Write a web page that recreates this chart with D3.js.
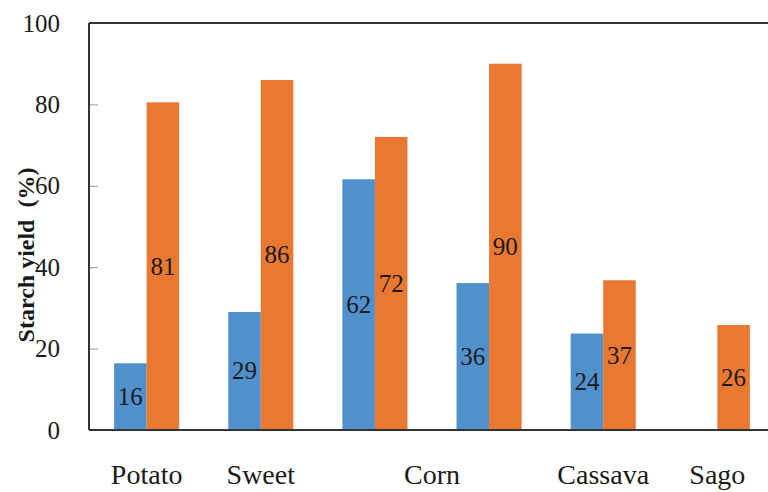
<!DOCTYPE html>
<html>
<head>
<meta charset="utf-8">
<script src="https://cdn.jsdelivr.net/npm/d3@7"></script>
<style>
  body { margin: 0; background: #fff; }
  svg text { font-family: "Liberation Serif", "DejaVu Serif", serif; fill: #1a1a1a; }
</style>
</head>
<body>
<svg id="chart" width="768" height="492"></svg>
<script>
// groups along the x axis (corn has two bar pairs)
var groups = ["potato", "sweet", "corn1", "corn2", "cassava", "sago"];
var blueValues = [16.4, 29, 61.6, 36.1, 23.7, null];
var orangeValues = [80.5, 86, 72, 90, 36.8, 25.8];
var xLabels = ["Potato", "Sweet", "Corn", "Cassava", "Sago"];
var xLabelGroups = [["potato"], ["sweet"], ["corn1", "corn2"], ["cassava"], ["sago"]];
var yTicks = [0, 20, 40, 60, 80, 100];
var yTitle = "Starch yield  (%)";

var svg = d3.select("#chart"),
    margin = {top: 23, right: -7, bottom: 62, left: 89},
    width = +svg.attr("width") - margin.left - margin.right,
    height = +svg.attr("height") - margin.top - margin.bottom;

var serif = "'Liberation Serif', 'DejaVu Serif', serif";
var blue = "#5090cc", orange = "#e97932";

var x0 = d3.scaleBand()
  .domain(groups)
  .range([margin.left, margin.left + width])
  .paddingInner(0.43)
  .paddingOuter(0.22);

var x1 = d3.scaleBand()
  .domain(["blue", "orange"])
  .range([0, x0.bandwidth()]);

var y = d3.scaleLinear()
  .domain([0, 100])
  .range([margin.top + height, margin.top]);

var rows = groups.map(function (g, i) {
  return {group: g, bars: [
    {key: "blue", value: blueValues[i]},
    {key: "orange", value: orangeValues[i]}
  ].filter(function (b) { return b.value != null; })};
});

// bars
var gGroup = svg.append("g").selectAll("g")
  .data(rows).enter().append("g")
  .attr("transform", d => "translate(" + x0(d.group) + ",0)");

gGroup.selectAll("rect")
  .data(d => d.bars).enter().append("rect")
  .attr("x", d => x1(d.key))
  .attr("y", d => y(d.value))
  .attr("width", x1.bandwidth())
  .attr("height", d => y(0) - y(d.value))
  .attr("fill", d => d.key == "blue" ? blue : orange);

gGroup.selectAll("text")
  .data(d => d.bars).enter().append("text")
  .attr("x", d => x1(d.key) + x1.bandwidth() / 2)
  .attr("y", d => y(d.value / 2))
  .attr("text-anchor", "middle")
  .attr("dominant-baseline", "central")
  .attr("font-family", serif)
  .style("font-size", "25px")
  .text(d => Math.round(d.value));

// y axis with small inner ticks
var yAxis = svg.append("g")
  .attr("transform", "translate(" + margin.left + ",0)")
  .call(d3.axisRight(y).tickValues(yTicks).tickSize(9).tickFormat(""));
yAxis.select(".domain").remove();
yAxis.selectAll("line").attr("stroke", "#9a9a9a");

svg.append("g").selectAll("text")
  .data(yTicks).enter().append("text")
  .attr("x", margin.left - 29)
  .attr("y", d => y(d))
  .attr("text-anchor", "end")
  .attr("dominant-baseline", "central")
  .attr("font-family", serif)
  .style("font-size", "25px")
  .text(d => d);

// frame: left, bottom, top
svg.append("path")
  .attr("d", "M" + margin.left + "," + y(100) + "V" + y(0))
  .attr("stroke", "#333").attr("stroke-width", 2).attr("fill", "none");
svg.append("line")
  .attr("x1", margin.left).attr("x2", 768)
  .attr("y1", y(0)).attr("y2", y(0))
  .attr("stroke", "#333").attr("stroke-width", 2);
svg.append("line")
  .attr("x1", margin.left).attr("x2", 768)
  .attr("y1", y(100)).attr("y2", y(100))
  .attr("stroke", "#333").attr("stroke-width", 2);

// x labels
svg.append("g").selectAll("text")
  .data(xLabels).enter().append("text")
  .attr("x", function (d, i) {
    return d3.mean(xLabelGroups[i], g => x0(g) + x0.bandwidth() / 2);
  })
  .attr("y", 484)
  .attr("text-anchor", "middle")
  .attr("font-family", serif)
  .style("font-size", "28px")
  .text(d => d);

// y title
svg.append("text")
  .attr("transform", "translate(34," + y(43) + ") rotate(-90)")
  .attr("text-anchor", "middle")
  .attr("font-family", serif)
  .style("font-size", "24px")
  .style("font-weight", "bold")
  .style("white-space", "pre")
  .text(yTitle);
</script>
</body>
</html>
